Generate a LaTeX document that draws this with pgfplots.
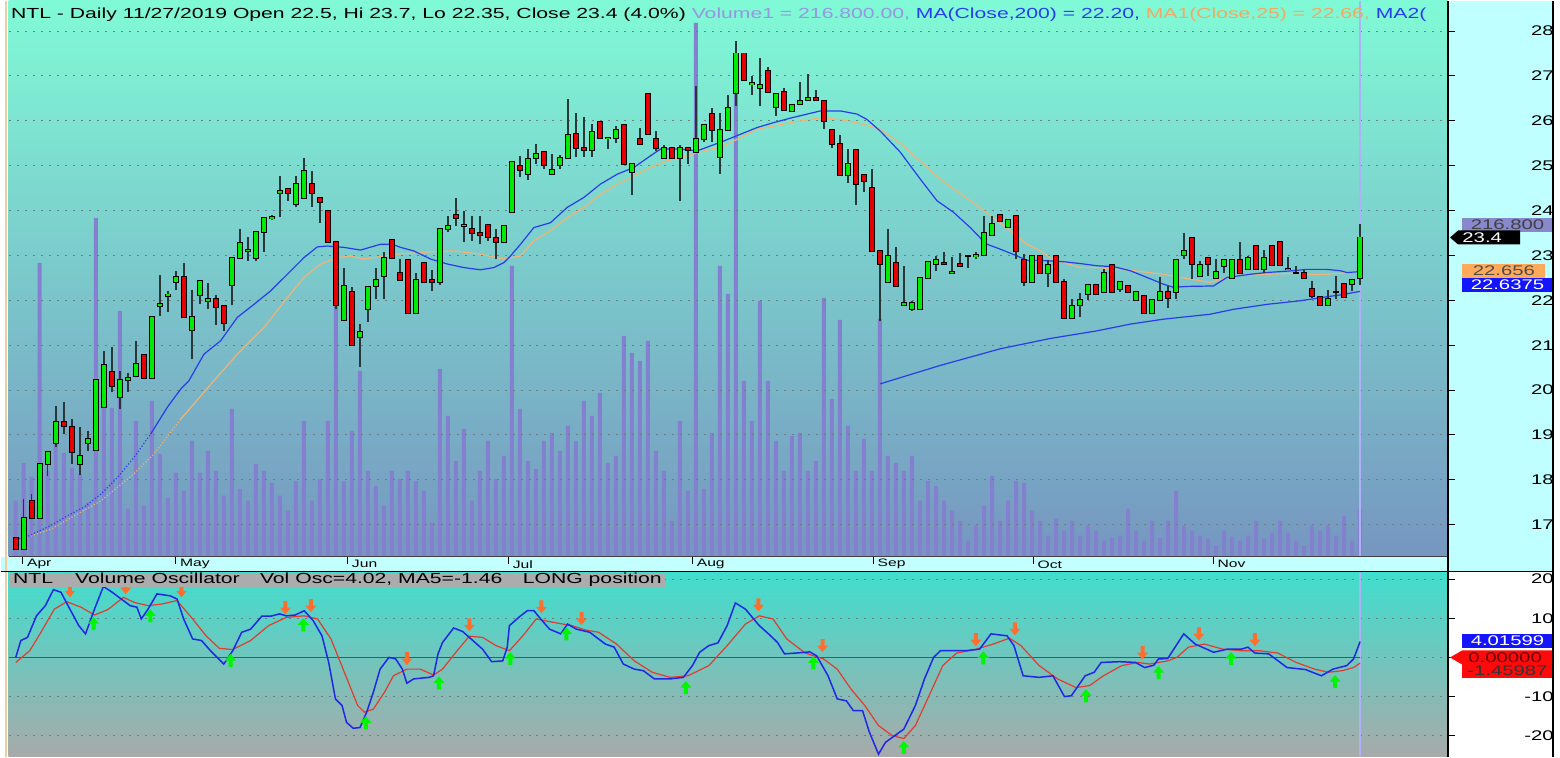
\documentclass[border=0pt]{standalone}
\usepackage{fontspec}
\setmainfont{Liberation Sans}[FakeStretch=1.45]
\usepackage{pgfplots}
\pgfplotsset{compat=1.18}
\usepackage{pgfplotstable}

\definecolor{bgtop}{RGB}{128,250,214}
\definecolor{bgbot}{RGB}{118,150,192}
\definecolor{osctop}{RGB}{64,222,206}
\definecolor{oscbot}{RGB}{168,170,170}
\definecolor{stripc}{RGB}{196,255,255}
\definecolor{scalec}{RGB}{192,255,255}
\definecolor{volc}{RGB}{132,128,208}
\definecolor{wickc}{RGB}{40,56,56}
\definecolor{upc}{RGB}{0,235,0}
\definecolor{dnc}{RGB}{230,0,0}
\definecolor{mablue}{RGB}{40,60,235}
\definecolor{maorange}{RGB}{240,180,120}
\definecolor{oscblue}{RGB}{30,40,230}
\definecolor{oscred}{RGB}{225,60,45}
\definecolor{zeroc}{RGB}{235,20,20}
\definecolor{arrorange}{RGB}{255,110,45}
\definecolor{arrgreen}{RGB}{0,245,0}
\definecolor{gridc}{RGB}{110,125,130}
\definecolor{cursorc}{RGB}{176,176,248}
\definecolor{hdrgray}{RGB}{172,172,172}
\definecolor{volhdr}{RGB}{150,150,225}
\definecolor{ma1hdr}{RGB}{240,170,100}
\definecolor{ma2hdr}{RGB}{40,60,240}
\definecolor{tanline}{RGB}{238,205,160}
\definecolor{boxvol}{RGB}{136,136,204}
\definecolor{boxorange}{RGB}{255,170,90}
\definecolor{boxblue}{RGB}{20,20,255}
\definecolor{boxred}{RGB}{255,10,10}

\newcommand{\hdrfont}{\fontsize{7.3pt}{8pt}\selectfont}
\newcommand{\tickfont}{\fontsize{7pt}{8pt}\selectfont}
\newcommand{\datefont}{\fontsize{5.4pt}{6pt}\selectfont}

\pgfdeclareplotmark{arrdn}{%
  \pgfpathmoveto{\pgfqpoint{-1pt}{3.25pt}}%
  \pgfpathlineto{\pgfqpoint{1pt}{3.25pt}}%
  \pgfpathlineto{\pgfqpoint{1pt}{0pt}}%
  \pgfpathlineto{\pgfqpoint{2.75pt}{0pt}}%
  \pgfpathlineto{\pgfqpoint{0pt}{-3.25pt}}%
  \pgfpathlineto{\pgfqpoint{-2.75pt}{0pt}}%
  \pgfpathlineto{\pgfqpoint{-1pt}{0pt}}%
  \pgfpathclose\pgfusepathqfill}
\pgfdeclareplotmark{arrup}{%
  \pgfpathmoveto{\pgfqpoint{-1pt}{-3.25pt}}%
  \pgfpathlineto{\pgfqpoint{1pt}{-3.25pt}}%
  \pgfpathlineto{\pgfqpoint{1pt}{0pt}}%
  \pgfpathlineto{\pgfqpoint{2.75pt}{0pt}}%
  \pgfpathlineto{\pgfqpoint{0pt}{3.25pt}}%
  \pgfpathlineto{\pgfqpoint{-2.75pt}{0pt}}%
  \pgfpathlineto{\pgfqpoint{-1pt}{0pt}}%
  \pgfpathclose\pgfusepathqfill}

\pgfplotsset{
  candlebar/.style={only marks, mark=*, mark size=0.2pt, mark options={opacity=0},
    error bars/y dir=both, error bars/y explicit, error bars/error mark=none}
}

\pgfplotstableread{
i o h l c
1 16.46 17.57 16.45 17.16
3 17.16 18.35 17.16 18.35
4 18.35 18.65 18.09 18.63
5 18.81 19.65 18.74 19.28
8 18.35 19.17 18.11 18.54
9 18.82 19.09 18.65 18.91
10 18.66 20.22 18.65 20.22
11 19.63 20.86 19.61 20.56
13 19.84 20.43 19.58 20.22
14 20.22 20.37 19.95 20.28
15 20.32 21.10 20.32 20.59
17 20.28 21.63 20.25 21.63
18 21.88 22.57 21.66 21.92
19 22.10 22.20 21.74 22.13
20 22.40 22.66 22.23 22.52
22 21.34 22.23 20.69 21.63
23 22.12 22.43 21.91 22.43
24 21.98 22.38 21.80 22.02
27 22.34 22.95 21.89 22.95
28 22.95 23.60 22.95 23.27
29 23.10 23.40 22.88 23.13
30 22.95 23.53 22.88 23.53
31 23.53 23.86 23.07 23.83
32 23.83 23.90 23.80 23.85
33 24.40 24.77 23.86 24.43
35 24.14 24.77 24.07 24.59
36 24.29 25.17 24.29 24.88
41 21.56 22.73 21.56 22.31
43 21.19 21.48 20.52 21.29
44 21.80 22.30 21.51 22.30
45 22.31 22.73 22.03 22.45
46 22.55 23.07 22.03 22.94
50 21.71 22.60 21.71 22.46
53 22.40 23.58 22.35 23.58
54 23.60 23.88 23.53 23.65
56 23.66 23.98 23.31 23.68
61 23.31 23.65 23.31 23.65
62 23.96 25.09 23.96 25.09
64 24.81 25.37 24.68 25.14
65 25.18 25.48 25.03 25.25
67 24.81 25.27 24.81 24.90
68 25.02 25.23 24.92 25.17
69 25.18 26.48 25.18 25.69
72 25.34 25.94 25.20 25.75
74 25.61 25.61 25.37 25.62
75 25.61 25.89 25.51 25.79
77 24.85 25.07 24.35 25.04
81 25.18 25.46 25.18 25.39
83 25.18 25.46 24.21 25.39
85 25.31 26.78 25.31 25.60
86 25.60 25.90 25.52 25.90
88 25.20 26.18 24.82 25.79
89 25.79 26.58 25.79 26.29
90 26.61 27.78 26.33 27.50
92 26.81 27.00 26.57 26.85
93 26.72 27.39 26.32 26.80
95 26.31 26.59 26.11 26.59
97 26.22 26.35 26.22 26.35
98 26.37 26.87 26.35 26.44
99 26.46 27.04 26.46 26.50
104 24.80 25.37 24.62 25.03
109 22.40 23.58 22.40 22.99
111 21.90 22.77 21.90 21.95
112 21.80 21.99 21.77 21.93
113 21.80 22.49 21.80 22.49
114 22.49 22.86 22.49 22.86
115 22.81 22.99 22.66 22.89
117 22.61 22.97 22.61 22.64
119 22.99 22.99 22.73 22.99
120 22.99 23.07 22.92 23.00
121 23.00 23.88 23.00 23.50
122 23.45 23.88 23.45 23.70
124 23.64 23.79 23.64 23.79
127 22.40 22.99 22.40 22.99
129 22.60 22.89 22.29 22.79
132 21.60 22.03 21.60 21.88
133 21.90 22.17 21.62 22.00
134 22.15 22.34 22.00 22.34
136 22.19 22.69 22.19 22.60
138 22.25 22.40 22.19 22.40
140 22.00 22.19 22.00 22.19
142 21.71 22.00 21.71 22.00
143 22.00 22.51 22.00 22.19
145 22.19 22.90 22.03 22.90
146 23.01 23.49 22.93 23.09
148 22.55 22.88 22.55 22.79
150 22.49 22.92 22.49 22.64
151 22.77 22.89 22.62 22.89
152 22.49 22.89 22.49 22.89
154 22.69 22.99 22.69 22.94
156 22.69 23.12 22.62 22.94
159 22.69 22.97 22.69 22.70
160 22.62 22.77 22.58 22.62
164 21.89 22.23 21.89 22.04
165 22.18 22.55 22.02 22.18
167 22.36 22.45 22.21 22.45
168 22.50 23.70 22.35 23.40
}\up

\pgfplotstableread{
i o h l c
0 16.70 16.72 16.45 16.46
2 17.53 17.68 17.16 17.16
6 19.28 19.74 19.02 19.19
7 19.18 19.35 18.35 18.63
12 20.41 20.95 19.95 20.09
16 20.78 20.80 20.27 20.28
21 22.52 22.84 21.63 21.63
25 22.02 22.12 21.45 21.86
26 21.88 21.88 21.32 21.49
34 24.49 24.51 24.22 24.40
37 24.59 24.88 24.07 24.40
38 24.29 24.29 23.72 24.19
39 23.99 23.99 23.30 23.30
40 23.30 23.30 21.80 21.89
42 22.19 22.29 21.00 21.00
47 23.35 23.35 22.95 22.95
48 22.60 22.92 22.46 22.46
49 22.90 22.90 21.71 21.71
51 22.84 22.84 22.40 22.40
52 22.46 22.67 22.21 22.40
55 23.90 24.28 23.66 23.83
57 23.59 23.88 23.33 23.50
58 23.50 23.88 23.25 23.45
59 23.68 23.68 23.33 23.40
60 23.38 23.58 22.92 23.30
63 25.00 25.22 24.74 24.90
66 25.31 25.31 24.92 25.01
70 25.70 26.18 25.20 25.40
71 25.39 26.08 25.20 25.34
73 25.98 25.98 25.61 25.61
76 25.90 25.90 25.03 25.03
78 25.60 25.83 25.49 25.49
79 26.59 26.59 25.70 25.70
80 25.60 25.78 25.33 25.39
82 25.39 25.39 25.18 25.18
84 25.39 25.39 25.03 25.34
87 26.15 26.28 25.52 25.79
91 27.50 27.50 26.90 26.90
94 27.10 27.19 26.65 26.65
96 26.65 26.73 26.24 26.24
100 26.50 26.68 26.46 26.46
101 26.44 26.44 25.81 26.00
102 25.79 25.79 25.40 25.49
103 25.49 25.68 24.80 24.80
105 25.34 25.34 24.13 24.59
106 24.79 24.79 24.42 24.65
107 24.50 24.92 23.10 23.10
108 23.09 23.09 21.55 22.81
110 22.84 23.18 22.31 22.31
116 22.84 23.07 22.81 22.81
118 22.80 23.05 22.76 22.76
123 23.90 23.90 23.76 23.76
125 23.88 23.88 22.92 23.09
126 22.89 23.03 22.32 22.40
128 22.99 22.99 22.60 22.60
130 22.99 22.99 22.40 22.40
131 22.40 22.47 21.60 21.60
135 22.34 22.34 22.15 22.15
137 22.79 22.79 22.19 22.19
139 22.32 22.32 22.19 22.19
141 22.10 22.10 21.71 21.71
144 22.19 22.32 21.83 22.05
147 23.38 23.38 22.47 22.81
149 22.94 22.94 22.55 22.81
153 22.89 23.29 22.60 22.60
155 23.20 23.20 22.69 22.69
157 23.20 23.20 22.79 22.79
158 23.29 23.29 22.79 22.79
161 22.60 22.67 22.49 22.49
162 22.25 22.43 22.05 22.10
163 22.08 22.08 21.89 21.89
166 22.36 22.36 22.07 22.07
}\dn

\pgfplotstableread{
i v
0 56
1 94
2 80
3 294
4 86
5 126
6 104
7 89
8 83
9 54
10 339
11 156
12 149
13 246
14 48
15 136
16 51
17 156
18 103
19 59
20 84
21 66
22 116
23 84
24 106
25 86
26 61
27 148
28 68
29 56
30 93
31 86
32 74
33 61
34 46
35 76
36 136
37 56
38 78
39 136
40 296
41 76
42 126
43 186
44 86
45 71
46 51
47 86
48 78
49 86
50 76
51 66
52 34
53 188
54 141
55 96
56 128
57 56
58 86
59 116
60 78
61 101
62 291
63 148
64 96
65 88
66 116
67 124
68 106
69 131
70 116
71 156
72 141
73 164
74 94
75 101
76 221
77 204
78 196
79 216
80 106
81 86
82 36
83 136
84 66
85 534
86 68
87 124
88 291
89 263
90 468
91 176
92 136
93 256
94 176
95 116
96 86
97 121
98 124
99 86
100 96
101 259
102 158
103 237
104 131
105 86
106 118
107 86
108 238
109 101
110 94
111 86
112 101
113 56
114 76
115 71
116 56
117 46
118 36
119 16
120 31
121 51
122 81
123 36
124 56
125 76
126 74
127 46
128 36
129 21
130 38
131 26
132 36
133 21
134 31
135 26
136 16
137 19
138 21
139 48
140 26
141 16
142 36
143 19
144 36
145 66
146 31
147 26
148 21
149 18
150 11
151 26
152 20
153 16
154 21
155 36
156 18
157 24
158 36
159 24
160 16
161 11
162 31
163 26
164 31
165 21
166 41
167 16
168 48
}\vol

\begin{document}
\begin{tikzpicture}[x=1pt,y=1pt]
% backgrounds
\fill[white] (0,0) rectangle (780,378);
\shade[top color=bgtop,bottom color=bgbot] (4,100) rectangle (724,378);
\fill[stripc] (0,92.5) rectangle (724,100);
\fill[scalec] (724,92.5) rectangle (776.5,378);
\shade[top color=osctop,bottom color=oscbot] (4,0) rectangle (724,92.5);
\draw[tanline, line width=1pt] (2.5,92.5) -- (2.5,378);
\draw[tanline, line width=1pt] (2.5,0) -- (2.5,92.5);

% volume
\begin{axis}[at={(4pt,100pt)}, anchor=south west, scale only axis,
  width=720pt, height=278pt, xmin=-0.874, xmax=178.99, ymin=0, ymax=556,
  axis lines=none]
\addplot[ybar, bar width=2pt, fill=volc, draw=none] table[x=i,y=v]{\vol};
\end{axis}

% price
\begin{axis}[at={(4pt,100pt)}, anchor=south west, scale only axis,
  width=720pt, height=278pt, xmin=-0.874, xmax=178.99, ymin=16.287, ymax=28.670,
  axis line style={draw=none},
  ytick={17,...,28}, ytick pos=right, yticklabel pos=right,
  xtick={0.87,19.99,41.47,61.58,84.56,107.17,127.16,149.64},
  xticklabels={Apr,May,Jun,Jul,Aug,Sep,Oct,Nov}, xtick pos=bottom,
  tick align=outside, major tick length=3.5pt,
  tick style={black, line width=0.5pt},
  ymajorgrids, grid style={gridc, dash pattern=on 1pt off 3pt, line width=0.5pt},
  /pgf/number format/assume math mode=true,
  yticklabel style={font=\tickfont, anchor=east, inner sep=0pt, xshift=49.5pt},
  xticklabel style={font=\datefont, anchor=west, inner sep=0pt, xshift=2pt, yshift=-0.3pt}]
\draw[cursorc, line width=1pt] (axis cs:168,16.287) -- (axis cs:168,28.670);
% MA200
\addplot[mablue, line width=0.6pt, no markers] coordinates {
(108.04,20.14) (115.54,20.55) (123.03,20.92) (129.28,21.15) (135.11,21.32) (139.27,21.47)
(143.43,21.58) (149.26,21.69) (152.17,21.80) (156.35,21.91) (160.51,21.99) (163.84,22.08)
(165.50,22.12) (168,22.20)};
% MA1 (25) orange
\addplot[maorange, line width=0.6pt, densely dotted, no markers] coordinates {
(1.9,16.75) (4.37,16.90) (10.62,17.53) (14.74,18.13) (17.24,18.57) (20.61,19.35)};
\addplot[maorange, line width=0.6pt, no markers] coordinates {
(20.61,19.35) (24.77,20.21) (27.69,20.80) (31.01,21.39) (33.94,22.06) (36.01,22.51) (38.10,22.81)
(40.18,22.95) (41.84,22.99) (43.50,22.92) (47.68,23.03) (51.84,23.08) (54.75,23.10) (58.08,23.03)
(60.99,22.92) (63.08,22.99) (64.74,23.33) (66.83,23.55) (68.91,23.84) (70.98,24.07) (73.07,24.36)
(75.16,24.59) (77.23,24.77) (79.32,24.96) (81.40,25.11) (83.90,25.22) (85.15,25.29) (88.47,25.44)
(92.64,25.81) (96.80,25.96) (100.55,26.07) (103.05,26.03) (105.96,25.92) (108.04,25.81)
(110.54,25.50) (113.04,25.10) (115.54,24.70) (119.29,24.22) (122.20,23.84) (124.28,23.55)
(126.37,23.25) (128.03,23.10) (129.28,22.95) (130.94,22.84) (133.02,22.73) (135.11,22.73)
(139.27,22.67) (143.43,22.58) (145.51,22.51) (149.26,22.40) (152.17,22.55) (156.35,22.58)
(159.67,22.60) (162.59,22.57) (165.50,22.60) (168,22.66)};
% MA2 blue
\addplot[mablue, line width=0.6pt, densely dotted, no markers] coordinates {
(0,16.68) (1.25,16.72) (4.37,16.98) (6.46,17.20) (8.53,17.39) (10.62,17.68) (12.70,18.05)
(14.78,18.50) (16.86,19.02)};
\addplot[mablue, line width=0.6pt, no markers] coordinates {
(16.86,19.02) (18.95,19.62) (20.61,20.02) (21.65,20.21) (23.52,20.80) (25.61,21.10) (27.69,21.62)
(29.77,21.91) (31.85,22.21) (33.94,22.58) (36.01,22.95) (37.68,23.19) (38.93,23.21) (41.01,23.18)
(43.09,23.12) (45.59,23.25) (47.05,23.25) (48.09,23.18) (49.75,23.10) (51.84,22.92) (53.92,22.81)
(56.00,22.73) (58.08,22.68) (59.74,22.73) (60.99,22.84) (61.83,22.99) (63.08,23.25) (64.74,23.62)
(66.83,23.73) (68.91,24.07) (70.98,24.29) (73.07,24.59) (75.16,24.81) (77.23,24.96) (79.32,25.22)
(80.56,25.37) (83.06,25.37) (85.15,25.33) (88.47,25.55) (90.56,25.70) (92.64,25.85) (94.72,25.96)
(96.80,26.06) (98.89,26.15) (100.55,26.22) (103.05,26.22) (105.13,26.15) (106.38,26.03)
(108.04,25.77) (110.54,25.30) (113.04,24.70) (115.12,24.22) (117.20,23.96) (119.29,23.62)
(120.75,23.35) (121.37,23.25) (123.03,23.14) (125.12,22.99) (126.37,22.89) (128.03,22.89)
(130.94,22.86) (133.02,22.82) (135.11,22.77) (137.19,22.75) (139.27,22.66) (141.36,22.51)
(143.43,22.36) (144.68,22.29) (146.35,22.31) (149.68,22.32) (151.35,22.51) (154.26,22.58)
(156.35,22.62) (159.67,22.66) (161.34,22.69) (163.84,22.69) (165.50,22.66) (166.34,22.62) (168,22.64)};
% wicks
\addplot[candlebar, error bars/error bar style={wickc, line width=0.75pt}]
  table[x=i, y expr={(\thisrow{h}+\thisrow{l})/2}, y error expr={(\thisrow{h}-\thisrow{l})/2}]{\up};
\addplot[candlebar, error bars/error bar style={wickc, line width=0.75pt}]
  table[x=i, y expr={(\thisrow{h}+\thisrow{l})/2}, y error expr={(\thisrow{h}-\thisrow{l})/2}]{\dn};
% bodies outline
\addplot[candlebar, error bars/error bar style={black, line width=3pt}]
  table[x=i, y expr={(\thisrow{o}+\thisrow{c})/2}, y error expr={abs(\thisrow{o}-\thisrow{c})/2+0.022}]{\up};
\addplot[candlebar, error bars/error bar style={black, line width=3pt}]
  table[x=i, y expr={(\thisrow{o}+\thisrow{c})/2}, y error expr={abs(\thisrow{o}-\thisrow{c})/2+0.022}]{\dn};
% bodies fill
\addplot[candlebar, error bars/error bar style={upc, line width=2pt}]
  table[x=i, y expr={(\thisrow{o}+\thisrow{c})/2}, y error expr={abs(\thisrow{o}-\thisrow{c})/2}]{\up};
\addplot[candlebar, error bars/error bar style={dnc, line width=2pt}]
  table[x=i, y expr={(\thisrow{o}+\thisrow{c})/2}, y error expr={abs(\thisrow{o}-\thisrow{c})/2}]{\dn};
\end{axis}

% oscillator
\begin{axis}[at={(4pt,0pt)}, anchor=south west, scale only axis,
  width=720pt, height=92.5pt, xmin=-0.874, xmax=178.99, ymin=-25.33, ymax=21.86,
  axis line style={draw=none}, xtick=\empty,
  ytick={-20,-10,0,10,20}, ytick pos=right, yticklabel pos=right,
  tick align=outside, major tick length=3.5pt,
  tick style={black, line width=0.5pt},
  ymajorgrids, grid style={gridc, dash pattern=on 1pt off 3pt, line width=0.5pt},
  /pgf/number format/assume math mode=true,
  yticklabel style={font=\tickfont, anchor=east, inner sep=0pt, xshift=49.5pt}]
\draw[cursorc, line width=1pt] (axis cs:168,-25.33) -- (axis cs:168,21.86);
\addplot[zeroc, line width=0.6pt, no markers] coordinates {(-0.874,0) (168,0)};
\addplot[oscred, line width=0.6pt, no markers] coordinates {
(0,-1.3) (1.75,1.7) (3.15,6.4) (4.82,12.3) (6.38,14.2) (8.17,12.8) (9.84,10.8) (11.51,12.2)
(13.46,15.3) (14.85,14.0) (16.53,13.2) (18.20,13.6) (20.15,14.5) (22.11,9.8) (23.78,5.5)
(25.45,2.3) (27.12,2.0) (29.35,4.3) (31.59,8.1) (33.81,10.2) (36.05,10.6) (37.72,9.8)
(39.39,4.7) (41.07,-3.8) (42.73,-12.3) (43.57,-14.0) (44.69,-13.2) (46.08,-8.9) (47.20,-4.7)
(48.88,-3.0) (50.54,-3.0) (52.21,-4.5) (53.33,-3.0) (55.00,1.3) (56.68,5.4) (58.34,5.1)
(60.02,3.0) (61.69,1.7) (63.37,5.5) (65.04,9.8) (67.27,8.9) (69.50,8.1) (71.17,7.0) (72.84,6.4)
(75.08,3.4) (77.30,-0.9) (79.54,-3.8) (81.76,-5.1) (84.0,-4.7) (86.61,-2.1) (88.90,3.0)
(91.19,8.5) (92.92,10.6) (94.63,9.8) (96.35,4.7) (98.65,1.1) (100.94,-0.4) (102.66,-3.0)
(104.38,-8.1) (106.11,-12.3) (107.82,-17.4) (109.54,-20.0) (110.98,-20.7) (112.42,-17.4)
(114.13,-9.8) (115.85,-2.1) (117.57,1.1) (119.87,2.0) (122.16,3.4) (124.17,4.9) (125.61,3.0)
(127.89,-2.1) (130.19,-5.5) (132.49,-7.7) (134.20,-7.2) (135.92,-4.7) (138.22,-2.1)
(140.23,-1.3) (141.66,-1.7) (143.95,-0.9) (145.10,0.0) (146.54,2.6) (148.54,3.4) (150.84,2.1)
(153.14,1.7) (155.43,1.7) (157.72,1.1) (160.02,-1.3) (162.31,-3.0) (164.03,-3.8) (165.75,-3.4)
(167.18,-2.6) (168,-1.46)};
\addplot[oscblue, line width=0.75pt, no markers] coordinates {
(0,0.0) (0.64,4.3) (1.47,5.1) (2.59,10.6) (3.70,13.2) (4.71,17.3) (5.66,16.6) (6.77,12.3)
(7.88,8.1) (8.72,6.0) (9.84,12.3) (10.95,18.1) (12.07,16.6) (13.18,14.9) (14.30,13.2)
(15.14,12.8) (15.69,9.8) (16.53,12.3) (17.65,16.2) (19.31,15.7) (20.15,14.9) (20.98,9.8)
(22.11,4.7) (23.22,4.3) (24.33,1.7) (26.00,-1.7) (27.12,1.7) (28.24,6.4) (29.35,7.2)
(30.75,10.5) (31.86,10.5) (32.98,11.1) (33.81,10.6) (34.92,10.8) (36.05,11.9) (37.16,9.4)
(38.27,5.5) (39.11,-1.3) (39.95,-10.6) (40.78,-12.3) (41.34,-16.6) (42.18,-18.1) (43.02,-17.9)
(43.85,-14.0) (44.69,-8.9) (45.53,-3.0) (46.64,0.0) (47.48,-0.4) (48.31,-3.0) (48.88,-6.6)
(49.71,-5.5) (51.66,-5.1) (52.21,-4.7) (52.77,0.9) (53.33,3.8) (54.72,7.5) (55.85,6.6)
(56.68,5.1) (58.34,2.1) (59.47,-1.1) (60.85,-0.9) (61.42,2.6) (61.69,8.1) (63.09,10.6)
(63.93,11.9) (64.76,11.9) (65.60,9.8) (66.71,7.2) (68.11,6.0) (68.95,8.5) (70.06,7.2)
(71.73,6.4) (73.68,3.4) (74.79,2.6) (75.92,-1.7) (77.30,-3.0) (78.43,-3.4) (79.81,-5.5)
(81.76,-5.5) (83.44,-5.1) (84.56,-2.1) (85.46,1.3) (86.61,3.0) (87.75,3.7) (88.90,8.1)
(89.93,13.9) (91.19,12.3) (92.92,8.1) (94.07,6.0) (95.20,3.8) (96.07,0.9) (97.50,1.1)
(99.23,1.4) (100.09,0.4) (101.51,-4.7) (102.66,-10.6) (103.81,-11.1) (104.67,-13.6)
(105.82,-13.6) (106.68,-19.1) (107.82,-24.7) (108.68,-21.7) (110.98,-18.3) (112.42,-12.3)
(113.56,-5.5) (114.70,0.0) (115.56,1.7) (118.72,1.7) (120.45,2.1) (121.87,6.0) (123.88,5.5)
(124.74,3.0) (125.89,-4.7) (127.89,-5.1) (129.61,-4.7) (131.05,-10.0) (131.91,-9.8)
(133.64,-4.7) (134.77,-3.8) (135.64,-1.3) (137.93,-1.1) (139.94,-1.3) (141.08,-2.6)
(142.23,-2.0) (142.80,-0.4) (143.95,-0.3) (145.96,6.0) (147.39,3.4) (149.69,1.3) (151.41,2.1)
(153.14,2.1) (153.98,2.6) (154.85,1.1) (156.57,0.9) (158.87,-2.6) (161.16,-3.1) (163.17,-4.7)
(164.60,-3.0) (166.33,-2.1) (167.18,-0.4) (168,4.02)};
\addplot[only marks, mark=arrdn, color=arrorange] coordinates {
(6.77,17.0) (13.74,17.8) (20.71,17.0) (33.70,12.7) (36.88,13.2) (48.88,-0.3) (56.68,8.3)
(65.70,12.9) (70.70,9.9) (92.81,13.4) (100.82,3.0) (119.98,4.5) (124.86,7.3) (140.81,1.2)
(147.85,6.0) (154.85,4.5)};
\addplot[only marks, mark=arrup, color=arrgreen] coordinates {
(9.73,8.6) (16.81,10.6) (26.84,-0.8) (35.94,8.3) (43.74,-16.7) (52.88,-6.5) (61.80,-0.3)
(68.82,6.0) (83.73,-7.7) (99.68,-1.4) (110.98,-23.0) (120.91,-0.1) (133.75,-9.8)
(142.81,-3.9) (151.87,-0.3) (164.88,-6.2)};
\end{axis}

% frame lines
\draw[black!75, line width=0.5pt] (4,100) -- (724,100);
\draw[black, line width=0.75pt] (0,92.5) -- (776.5,92.5);
\draw[black, line width=0.75pt] (724,0) -- (724,378);
\draw[black, line width=1pt] (776.5,0) -- (776.5,378);

% header
\begin{scope}
\clip (4,100) rectangle (724,378);
\node[anchor=base west, inner sep=0pt] at (5,369) {\hdrfont NTL - Daily 11/27/2019 Open 22.5, Hi 23.7, Lo 22.35, Close 23.4 (4.0\%) \textcolor{volhdr}{Volume1 = 216.800.00,} \textcolor{ma2hdr}{MA(Close,200) = 22.20,} \textcolor{ma1hdr}{MA1(Close,25) = 22.66,} \textcolor{ma2hdr}{MA2(}};
\end{scope}

% oscillator header
\fill[hdrgray] (4,85) rectangle (332.5,92.1);
\node[anchor=base west, inner sep=0pt] at (6,86.5) {\hdrfont NTL};
\node[anchor=base west, inner sep=0pt] at (37,86.5) {\hdrfont Volume Oscillator};
\node[anchor=base west, inner sep=0pt] at (129.5,86.5) {\hdrfont Vol Osc=4.02, MA5=-1.46};
\node[anchor=base west, inner sep=0pt] at (261,86.5) {\hdrfont LONG position};

% value boxes on the scale
\node[fill=boxvol, text=black!75, anchor=west, inner sep=0pt, minimum height=7pt, minimum width=45pt] at (731,266) {\tickfont 216.800};
\fill[black] (725,259.7) -- (729,263.2) -- (760,263.2) -- (760,256.2) -- (729,256.2) -- cycle;
\node[text=white, anchor=west, inner sep=0pt] at (731,259.7) {\tickfont 23.4};
\node[fill=boxorange, text=black!70, anchor=west, inner sep=0pt, minimum height=7pt, minimum width=41.5pt] at (731,243) {\tickfont 22.656};
\node[fill=boxblue, text=white, anchor=west, inner sep=0pt, minimum height=7pt, minimum width=45pt] at (731,236) {\tickfont 22.6375};
\node[fill=boxblue, text=white, anchor=west, inner sep=0pt, minimum height=7pt, minimum width=45pt] at (731,58) {\tickfont 4.01599};
\fill[boxred] (725,49.6) -- (731,53.1) -- (776,53.1) -- (776,46.1) -- (731,46.1) -- cycle;
\node[text=black!60!red, anchor=west, inner sep=0pt] at (734,49.6) {\tickfont 0.00000};
\node[fill=boxred, text=black!80, anchor=west, inner sep=0pt, minimum height=7pt, minimum width=45pt] at (731,43) {\tickfont -1.45987};
\end{tikzpicture}
\end{document}
